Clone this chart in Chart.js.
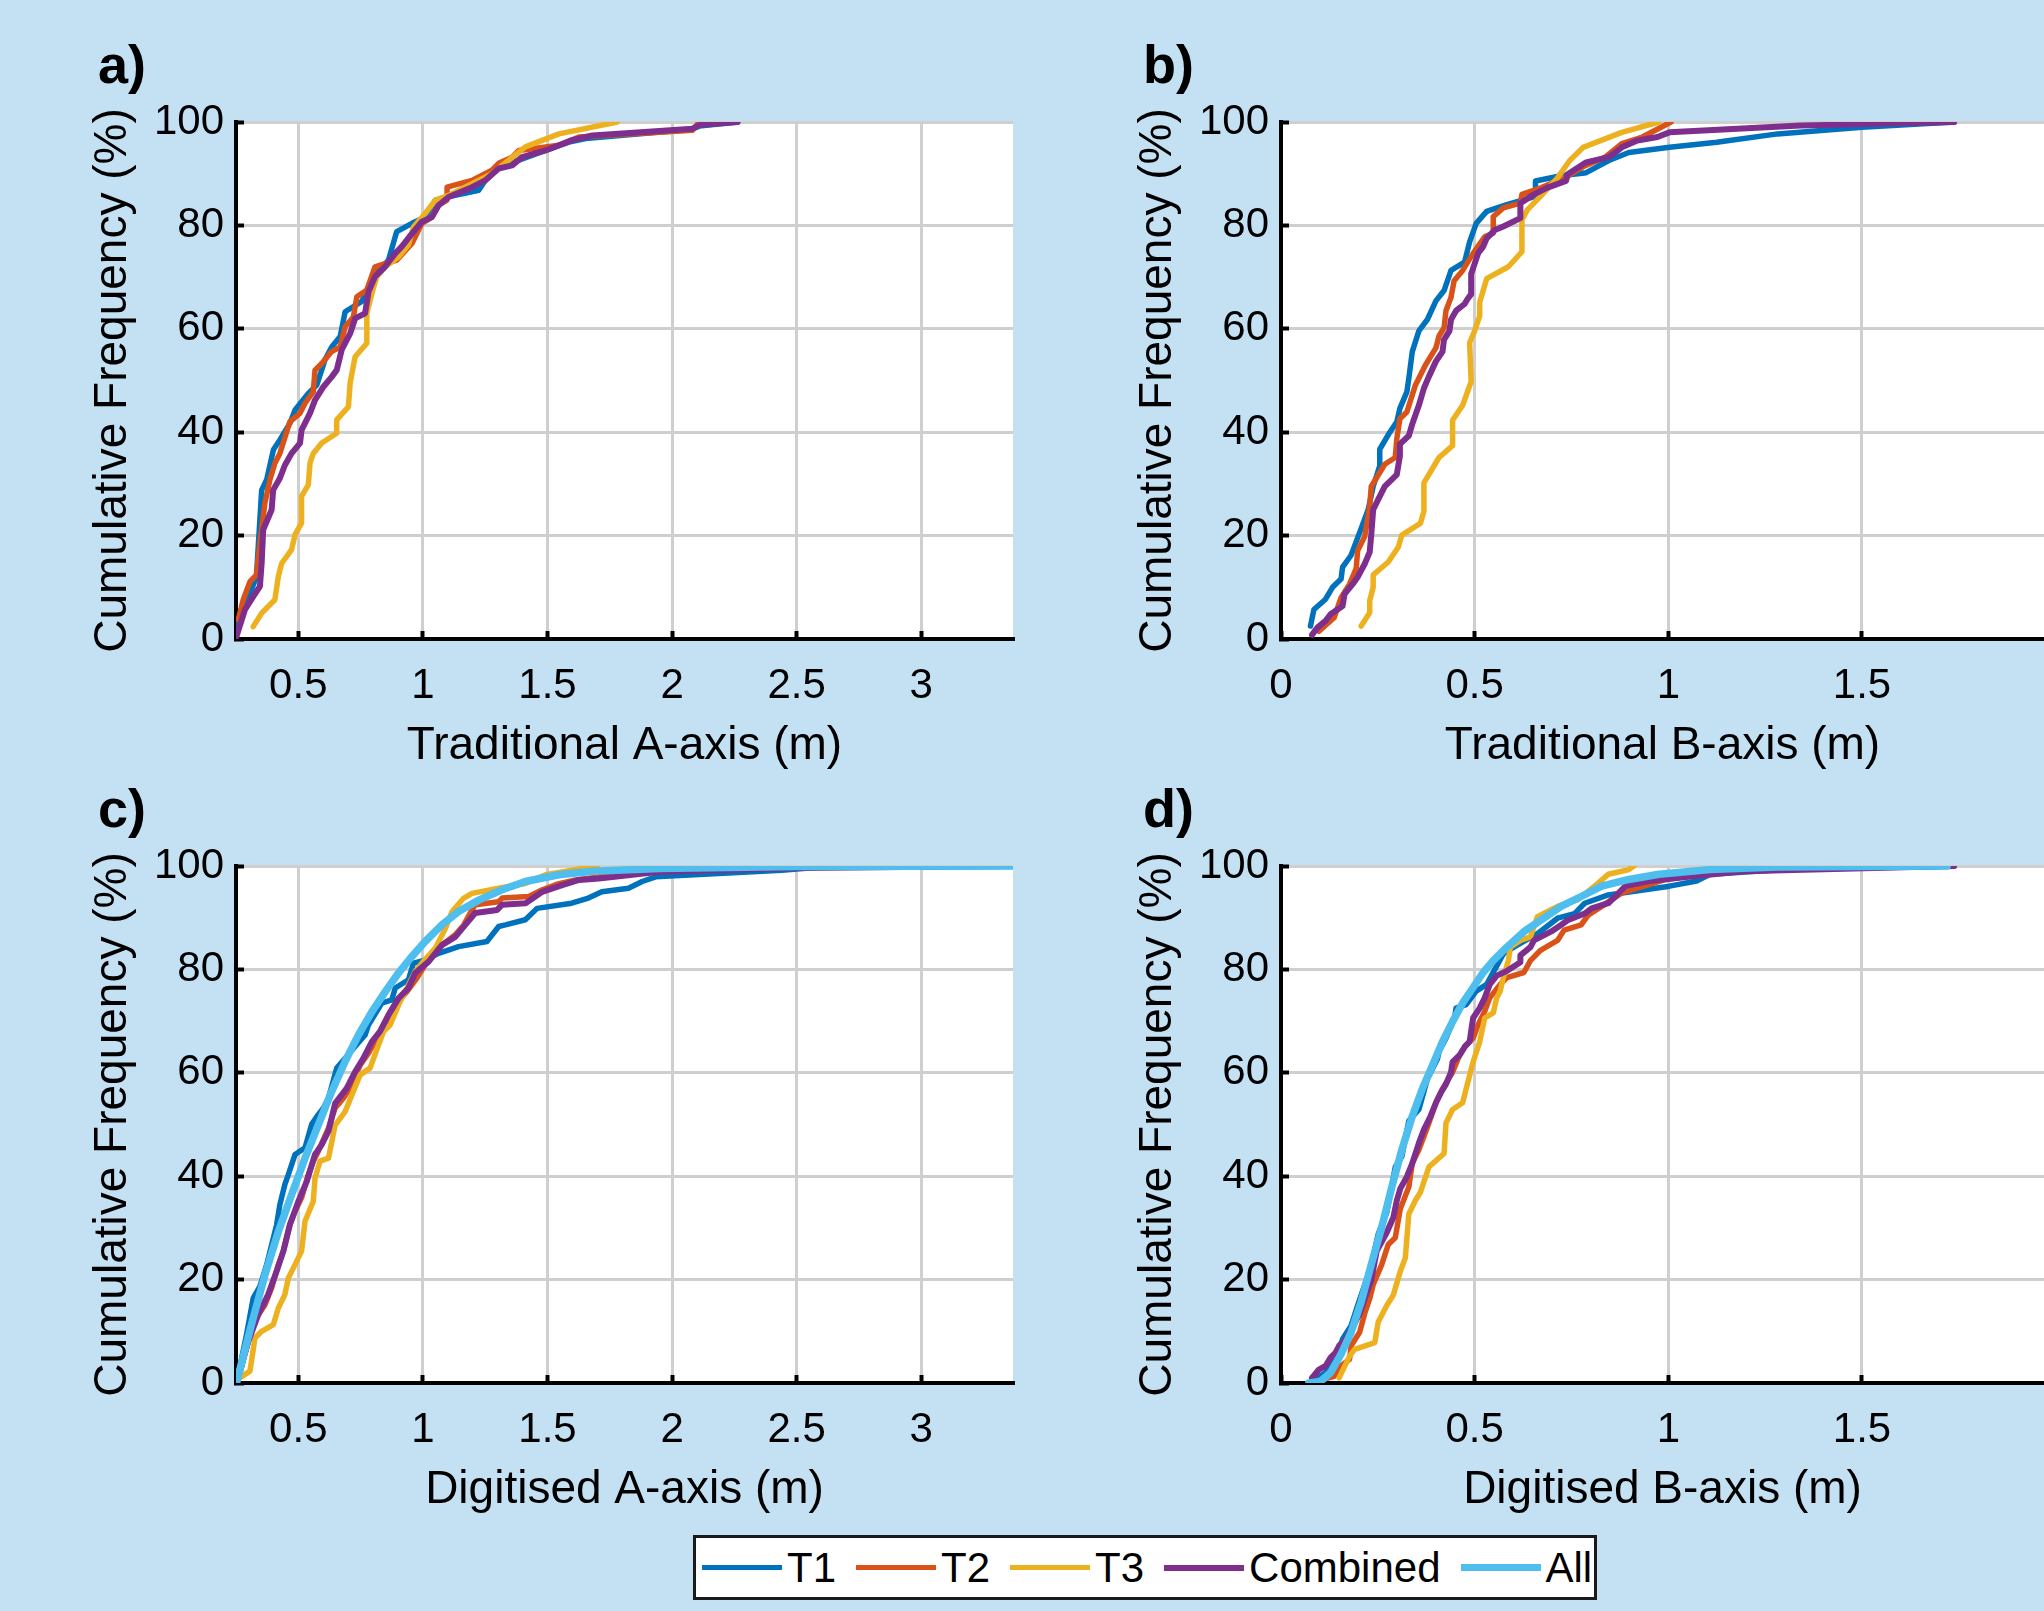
<!DOCTYPE html>
<html>
<head>
<meta charset="utf-8">
<script src="https://cdn.jsdelivr.net/npm/chart.js@4.4.0/dist/chart.umd.min.js"></script>
<style>
  body { margin: 0; background: #c4e1f4; }
  #fig { position: relative; width: 2044px; height: 1611px; overflow: hidden;
         background: #c4e1f4; font-family: "Liberation Sans", Arial, sans-serif; color: #000; }
  canvas { position: absolute; }
  .tag { position: absolute; font-weight: bold; font-size: 54px; line-height: 54px; }
  #legend { position: absolute; left: 693px; top: 1535px; width: 904px; height: 65px;
            box-sizing: border-box; border: 3px solid #1a1a1a; background: #fff;
            display: flex; align-items: center; padding-left: 6px; font-size: 42px; }
  .item { display: flex; align-items: center; margin-right: 20px; }
  .swatch { width: 80px; margin-right: 5px; }
</style>
</head>
<body>
<div id="fig">
  <div id="legend"></div>
</div>
<script>
// Series shared by all four panels
const SERIES = ['T1', 'T2', 'T3', 'Combined', 'All'];
const COLORS = ['#0072BD', '#D95319', '#EDB120', '#7E2F8E', '#4DBEEE'];
const WIDTHS = [5.5, 5.5, 5.5, 6, 7.5];

const yTicks = [0, 20, 40, 60, 80, 100];
const xTicksA = [0.5, 1, 1.5, 2, 2.5, 3];
const xTicksB = [0, 0.5, 1, 1.5];

// a) Traditional A-axis  [size (m), cumulative %]
const aT1 = [[0.252,1.8],[0.332,12.1],[0.353,28.8],[0.373,30.8],[0.40,36.6],[0.426,38.5],[0.466,41.7],[0.487,44.3],[0.54,47.5],[0.574,49.1],[0.607,54],[0.634,56.5],[0.668,58.5],[0.688,63.3],[0.755,65.3],[0.782,68.1],[0.815,70.7],[0.862,73.3],[0.895,78.8],[0.956,80.4],[1.009,81.6],[1.05,84.9],[1.097,85.5],[1.224,86.8],[1.25,88.7],[1.304,91.3],[1.385,92.6],[1.492,94.5],[1.586,96.1],[1.653,96.8],[2.08,98.6],[2.109,99.2],[2.263,100]];
const aT2 = [[0.259,3.7],[0.279,7.6],[0.306,11.1],[0.332,12.4],[0.346,18.5],[0.366,26.3],[0.386,30.8],[0.406,34],[0.426,35.9],[0.466,42],[0.507,43.7],[0.527,45.6],[0.56,47.8],[0.567,52],[0.594,53.3],[0.634,55.6],[0.668,56.5],[0.688,60.4],[0.721,62.3],[0.735,66.2],[0.775,67.5],[0.808,72],[0.848,72.6],[0.895,73.3],[0.956,76.5],[0.996,80.4],[1.036,81.6],[1.063,83.9],[1.097,84.9],[1.097,87.4],[1.197,88.7],[1.277,90.7],[1.304,92],[1.358,93.2],[1.385,94.5],[1.546,95.5],[1.626,97.1],[2.082,98.4],[2.109,100]];
const aT3 = [[0.319,2.4],[0.353,5],[0.406,7.6],[0.42,12.1],[0.433,14.6],[0.473,17.3],[0.487,20.2],[0.513,22.4],[0.513,27.6],[0.54,29.8],[0.547,34],[0.56,35.9],[0.594,37.9],[0.654,39.8],[0.654,42.4],[0.701,44.9],[0.708,49.5],[0.728,54.6],[0.775,57.2],[0.775,63],[0.795,66.8],[0.815,70.1],[0.849,72],[0.902,73.9],[0.942,76.2],[0.962,79.7],[1.009,82.3],[1.05,84.9],[1.103,85.8],[1.277,90],[1.344,92.6],[1.411,95.2],[1.546,97.7],[1.78,100]];
const aComb = [[0.252,0.5],[0.286,5.7],[0.319,8.2],[0.346,10.2],[0.353,14.7],[0.359,21.1],[0.393,25],[0.399,28.8],[0.426,31.1],[0.446,33.6],[0.473,35.9],[0.507,37.9],[0.513,40.4],[0.547,43.7],[0.567,46.2],[0.601,48.8],[0.634,50.7],[0.654,52],[0.674,55.9],[0.708,59.1],[0.728,62],[0.768,63],[0.782,67.2],[0.808,70.1],[0.848,72],[0.889,74.6],[0.915,75.9],[0.956,78.4],[0.996,80.7],[1.036,81.6],[1.063,83.9],[1.103,85.5],[1.197,87.4],[1.25,88.7],[1.304,91],[1.358,91.6],[1.398,93.2],[1.492,94.5],[1.599,96.5],[1.68,97.4],[2.082,98.7],[2.109,99.4],[2.263,100]];

// b) Traditional B-axis
const bT1 = [[0.076,2.5],[0.085,5.7],[0.115,7.7],[0.133,10],[0.155,11.6],[0.159,13.9],[0.181,16.2],[0.207,21.4],[0.225,25],[0.238,29.5],[0.255,33.5],[0.255,36.7],[0.281,40],[0.299,42],[0.307,44.6],[0.325,47.8],[0.33,50.4],[0.339,55.6],[0.356,59.6],[0.378,61.8],[0.40,65.4],[0.421,67.4],[0.439,71.3],[0.474,72.9],[0.487,76.8],[0.504,80.4],[0.531,82.7],[0.583,84],[0.657,85.6],[0.657,88.6],[0.723,89.6],[0.788,90.2],[0.845,92.5],[0.898,94.1],[1.003,95.1],[1.125,96.1],[1.282,97.7],[1.5,99],[1.738,100]];
const bT2 = [[0.098,1.5],[0.137,4.1],[0.155,8],[0.177,10.6],[0.194,13.6],[0.198,17.1],[0.216,19.8],[0.229,25.6],[0.233,29.5],[0.268,33.8],[0.295,35.1],[0.299,38.7],[0.307,42.6],[0.325,43.9],[0.347,49.1],[0.373,53],[0.40,56.3],[0.408,58.6],[0.421,60.2],[0.426,63.5],[0.439,66.1],[0.447,69.3],[0.469,71.3],[0.496,74.6],[0.526,77.8],[0.548,78.5],[0.548,81.7],[0.574,83.4],[0.618,84.3],[0.622,86],[0.662,87],[0.732,89.2],[0.784,91.5],[0.837,93.2],[0.88,95.8],[0.933,97.1],[1.007,100]];
const bT3 = [[0.207,2.5],[0.229,5.1],[0.229,7.4],[0.238,10],[0.238,12.4],[0.277,14.9],[0.303,17.8],[0.312,20.1],[0.36,22.4],[0.369,24.7],[0.369,30.2],[0.408,35.1],[0.443,37.4],[0.443,42.3],[0.469,45.2],[0.491,49.8],[0.487,57.3],[0.50,59.6],[0.513,62.5],[0.513,65.1],[0.531,69.7],[0.587,72],[0.622,74.9],[0.622,81.1],[0.636,83],[0.67,85.6],[0.714,89.2],[0.745,92.5],[0.78,95.1],[0.88,98],[0.976,100]];
const bComb = [[0.08,0.8],[0.094,2.2],[0.115,3.5],[0.128,4.8],[0.159,6.4],[0.164,8.7],[0.185,10.6],[0.198,12],[0.216,14.5],[0.229,16.8],[0.233,20.1],[0.238,25],[0.251,27],[0.268,29.5],[0.299,31.8],[0.307,35.4],[0.307,37.7],[0.33,39.3],[0.339,41.6],[0.356,45.2],[0.369,48.5],[0.382,50.8],[0.40,53.7],[0.417,55.6],[0.421,57.9],[0.435,59.6],[0.439,61.8],[0.452,63.5],[0.474,64.8],[0.482,65.8],[0.491,66.7],[0.491,70.6],[0.50,72.6],[0.509,74.6],[0.522,75.9],[0.531,77.5],[0.552,79.1],[0.574,79.8],[0.618,81.4],[0.618,84.3],[0.653,86],[0.688,87.3],[0.736,88.6],[0.74,89.9],[0.788,92.2],[0.845,93.2],[0.863,94.1],[0.88,95.1],[0.92,96.4],[0.972,97.1],[1.003,98],[1.342,99.3],[1.738,100]];

// c) Digitised A-axis
const cT1 = [[0.252,0],[0.292,9.3],[0.319,16.4],[0.346,18.7],[0.373,22.9],[0.393,26.7],[0.413,30.6],[0.426,34.5],[0.446,38.4],[0.46,40.3],[0.487,44.2],[0.527,45.5],[0.554,50.1],[0.58,51.9],[0.601,53.2],[0.621,55.1],[0.654,60.9],[0.688,62.8],[0.728,65.1],[0.768,67.3],[0.782,69.3],[0.835,73.5],[0.875,74.1],[0.889,76.4],[0.942,78],[0.962,81.2],[1.009,81.8],[1.063,83.1],[1.143,84.4],[1.257,85.4],[1.304,88.3],[1.331,88.6],[1.411,89.6],[1.458,91.8],[1.597,92.8],[1.664,93.8],[1.718,95],[1.825,95.7],[1.88,97],[1.934,97.9],[2.44,99.2],[2.6,99.8],[3.368,100]];
const cT2 = [[0.259,0.6],[0.292,6.8],[0.326,12.2],[0.366,15.1],[0.393,18.4],[0.42,22.9],[0.44,25.5],[0.466,30.6],[0.487,33.2],[0.513,35.8],[0.54,40.3],[0.56,42.9],[0.58,44.8],[0.621,49.3],[0.648,53.2],[0.681,55.1],[0.708,57],[0.748,61.5],[0.782,63.8],[0.822,67.3],[0.862,70.6],[0.895,73.5],[0.936,75.7],[0.976,78.3],[1.009,80.9],[1.036,82.5],[1.076,84.7],[1.13,86.7],[1.164,88.6],[1.197,91.5],[1.21,92.5],[1.304,93.1],[1.318,93.8],[1.425,94.1],[1.479,95.4],[1.546,96.6],[1.613,97.3],[1.706,97.9],[1.948,98.9],[2.45,99.6],[2.6,100]];
const cT3 = [[0.265,1],[0.306,2.3],[0.326,8.7],[0.353,10],[0.40,11.3],[0.42,14.5],[0.446,17.1],[0.46,20.3],[0.487,22.9],[0.513,25.5],[0.527,31.3],[0.56,35.1],[0.567,39.6],[0.587,42.9],[0.621,43.5],[0.648,49.9],[0.688,52.5],[0.721,56.4],[0.748,59.6],[0.788,60.9],[0.822,65.4],[0.842,68],[0.869,69.3],[0.902,73.1],[0.929,75.7],[0.969,79.6],[0.996,81.2],[1.05,84.1],[1.09,87.9],[1.117,91.2],[1.164,93.8],[1.197,94.7],[1.304,95.7],[1.411,96.6],[1.492,98.3],[1.599,99.2],[1.70,100]];
const cComb = [[0.252,0],[0.299,8],[0.339,13.2],[0.379,17.1],[0.413,21.6],[0.44,25.5],[0.466,30.6],[0.50,35.1],[0.534,39],[0.567,44.2],[0.594,46.1],[0.621,48.7],[0.648,54.1],[0.694,57],[0.728,60.2],[0.761,62.8],[0.795,66],[0.828,68],[0.862,71.2],[0.902,74.4],[0.942,76.4],[0.969,79.3],[1.023,81.5],[1.076,84.7],[1.13,86.3],[1.17,88.6],[1.21,90.9],[1.298,91.5],[1.318,92.5],[1.412,92.8],[1.479,95],[1.559,96.3],[1.627,97.3],[1.706,97.6],[1.948,98.9],[2.5,99.6],[3.368,100]];
const cAll = [[0.252,0],[0.312,11.3],[0.366,20.9],[0.42,29.3],[0.473,36.4],[0.527,43.5],[0.58,49.9],[0.634,56.4],[0.688,62.2],[0.741,67.3],[0.795,71.8],[0.849,75.7],[0.902,79.3],[0.956,82.5],[1.009,85.4],[1.076,88.6],[1.143,91.2],[1.224,93.4],[1.318,95.4],[1.411,97],[1.546,98.3],[1.68,99],[1.948,99.5],[2.5,99.9],[3.368,100]];

// d) Digitised B-axis
const dT1 = [[0.08,0.3],[0.115,2],[0.146,5.6],[0.159,8.5],[0.181,11.1],[0.198,15],[0.216,19],[0.233,22.9],[0.251,28.8],[0.273,33],[0.295,41.8],[0.312,43.8],[0.33,50.7],[0.356,52.9],[0.378,58.8],[0.404,62.7],[0.408,64.1],[0.426,66.7],[0.448,70.6],[0.452,72.5],[0.478,73.2],[0.504,75.8],[0.531,77.1],[0.574,83],[0.601,84.3],[0.662,86.9],[0.714,89.9],[0.758,90.8],[0.784,92.8],[0.845,94.4],[1.003,96.1],[1.073,97.1],[1.108,98.4],[1.3,99.3],[1.738,100]];
const dT2 = [[0.089,0.3],[0.137,1.3],[0.155,3.3],[0.177,4.6],[0.181,7.2],[0.203,9.8],[0.216,13.4],[0.229,16.3],[0.238,19],[0.26,22.9],[0.277,26.8],[0.295,28.1],[0.308,33.7],[0.33,37.9],[0.339,42.5],[0.356,45.1],[0.382,50.3],[0.40,54.2],[0.417,56.9],[0.443,60.1],[0.461,63.4],[0.478,65.4],[0.496,66.7],[0.509,69.3],[0.526,71.9],[0.539,74.5],[0.566,77.1],[0.583,78.4],[0.627,79.4],[0.644,81.7],[0.67,83.7],[0.714,85.6],[0.731,87.6],[0.775,88.6],[0.793,90.5],[0.828,92.2],[0.854,93.5],[0.88,94.8],[0.994,97.4],[1.108,98.7],[1.3,99.5],[1.6,100]];
const dT3 = [[0.15,1],[0.177,5.2],[0.19,6.5],[0.242,7.8],[0.251,11.8],[0.273,15],[0.29,17],[0.308,21.6],[0.321,24.2],[0.33,32.7],[0.347,35.3],[0.36,36.9],[0.382,41.8],[0.421,44.4],[0.426,50.3],[0.443,52.9],[0.469,54.2],[0.478,56.9],[0.496,62.1],[0.513,66],[0.526,70.6],[0.548,71.6],[0.557,74.5],[0.566,75.8],[0.574,78.4],[0.587,81.7],[0.592,84.3],[0.618,85.6],[0.644,86.3],[0.662,90.2],[0.714,92.2],[0.767,93.5],[0.819,96.7],[0.845,98.4],[0.898,99.3],[0.911,100]];
const dComb = [[0.08,1],[0.098,2.6],[0.115,3.3],[0.128,4.9],[0.141,5.9],[0.15,7.2],[0.168,8.5],[0.185,10.8],[0.203,13.4],[0.216,16.3],[0.233,19.9],[0.247,25.5],[0.273,29.1],[0.29,32],[0.299,35.3],[0.308,37.6],[0.325,39.9],[0.339,42.5],[0.356,46.4],[0.369,49],[0.386,51.6],[0.40,54.2],[0.413,56.2],[0.426,57.8],[0.439,60.1],[0.443,62.1],[0.461,63.4],[0.474,65],[0.487,66],[0.496,70.6],[0.513,72.5],[0.526,74.5],[0.539,77.1],[0.557,78.8],[0.583,79.7],[0.618,81.4],[0.618,82.7],[0.644,84.3],[0.653,85.6],[0.697,87.3],[0.723,88.6],[0.74,89.5],[0.784,90.8],[0.802,91.8],[0.845,92.8],[0.863,94.1],[0.889,96.1],[0.95,97.1],[1.064,98],[1.195,99],[1.738,100]];
const dAll = [[0.072,0],[0.102,0.3],[0.128,2],[0.155,5.6],[0.181,9.8],[0.207,15.7],[0.233,22.9],[0.26,30.1],[0.286,37.9],[0.312,45.1],[0.339,51.6],[0.365,56.9],[0.391,61.4],[0.417,66],[0.443,69.9],[0.469,73.5],[0.496,76.5],[0.522,79.4],[0.548,81.7],[0.583,84.3],[0.627,87.3],[0.67,89.5],[0.723,92.2],[0.775,94.1],[0.828,96.1],[0.898,97.4],[0.976,98.4],[1.108,99.3],[1.282,99.8],[1.72,100]];

const panels = [
  { tag: 'a)', title: 'Traditional A-axis (m)', plotLeft: 236, plotTop: 122, right: 1023, padRight: 10,
    xMin: 0.25, xMax: 3.368, xTicks: xTicksA, series: [aT1, aT2, aT3, aComb] },
  { tag: 'b)', title: 'Traditional B-axis (m)', plotLeft: 1281, plotTop: 122, right: 2044, padRight: 0,
    xMin: 0, xMax: 1.97, xTicks: xTicksB, series: [bT1, bT2, bT3, bComb] },
  { tag: 'c)', title: 'Digitised A-axis (m)', plotLeft: 236, plotTop: 866, right: 1023, padRight: 10,
    xMin: 0.25, xMax: 3.368, xTicks: xTicksA, series: [cT1, cT2, cT3, cComb, cAll] },
  { tag: 'd)', title: 'Digitised B-axis (m)', plotLeft: 1281, plotTop: 866, right: 2044, padRight: 0,
    xMin: 0, xMax: 1.97, xTicks: xTicksB, series: [dT1, dT2, dT3, dComb, dAll] }
];

const Y_AXIS_W = 176;
const X_AXIS_H = 141;
const TOP_PAD = 50;   // must exceed half the top tick label + its padding
const PLOT_H = 517;

Chart.defaults.font.family = '"Liberation Sans", Arial, sans-serif';
Chart.defaults.color = '#000';

// white plot area on the blue figure background
const plotBg = {
  id: 'plotBg',
  beforeDraw(chart) {
    const { ctx, chartArea: a } = chart;
    ctx.save();
    ctx.fillStyle = '#fff';
    ctx.fillRect(a.left, a.top, a.right - a.left, a.bottom - a.top);
    ctx.restore();
  }
};

const fig = document.getElementById('fig');

function axisOpts() {
  return {
    grid: { color: '#cfcfcf', lineWidth: 3, tickLength: -8, tickColor: '#000', tickWidth: 4 },
    border: { display: true, color: '#000', width: 4 }
  };
}

function makePanel(p) {
  const left = p.plotLeft - Y_AXIS_W;
  const top = p.plotTop - TOP_PAD;
  const canvas = document.createElement('canvas');
  canvas.width = p.right - left;
  canvas.height = TOP_PAD + PLOT_H + X_AXIS_H;
  canvas.style.left = left + 'px';
  canvas.style.top = top + 'px';
  fig.appendChild(canvas);

  const tag = document.createElement('div');
  tag.className = 'tag';
  tag.textContent = p.tag;
  tag.style.left = (p.plotLeft - 138) + 'px';
  tag.style.top = (p.plotTop - 85) + 'px';
  fig.appendChild(tag);

  new Chart(canvas, {
    type: 'line',
    data: {
      datasets: p.series.map((pts, i) => ({
        label: SERIES[i],
        data: pts.map(([x, y]) => ({ x, y })),
        borderColor: COLORS[i],
        borderWidth: WIDTHS[i],
        borderJoinStyle: 'round',
        borderCapStyle: 'round',
        pointRadius: 0,
        tension: 0,
        fill: false,
        order: 10 - i
      }))
    },
    options: {
      responsive: false,
      animation: false,
      devicePixelRatio: 1,
      layout: { padding: { top: TOP_PAD, right: p.padRight, left: 0, bottom: 0 }, autoPadding: false },
      plugins: { legend: { display: false }, tooltip: { enabled: false } },
      scales: {
        x: {
          type: 'linear',
          min: p.xMin,
          max: p.xMax,
          afterBuildTicks: s => { s.ticks = p.xTicks.map(v => ({ value: v })); },
          afterFit: s => { s.height = X_AXIS_H; },
          ticks: { font: { size: 42 }, padding: 30, autoSkip: false, maxRotation: 0, callback: v => String(v) },
          title: { display: true, text: p.title, font: { size: 46 }, padding: { top: 0, bottom: 6 } },
          ...axisOpts()
        },
        y: {
          min: 0,
          max: 100,
          afterBuildTicks: s => { s.ticks = yTicks.map(v => ({ value: v })); },
          afterFit: s => { s.width = Y_AXIS_W; },
          ticks: { font: { size: 42 }, padding: 20, callback: v => String(v) },
          title: { display: true, text: 'Cumulative Frequency (%)', font: { size: 46 }, padding: { top: 26, bottom: 0 } },
          ...axisOpts()
        }
      }
    },
    plugins: [plotBg]
  });
}

panels.forEach(makePanel);

// shared legend below the panels
const legend = document.getElementById('legend');
SERIES.forEach((name, i) => {
  const item = document.createElement('div');
  item.className = 'item';
  const sw = document.createElement('span');
  sw.className = 'swatch';
  sw.style.borderTop = WIDTHS[i] + 'px solid ' + COLORS[i];
  const label = document.createElement('span');
  label.textContent = name;
  item.appendChild(sw);
  item.appendChild(label);
  legend.appendChild(item);
});
</script>
</body>
</html>
